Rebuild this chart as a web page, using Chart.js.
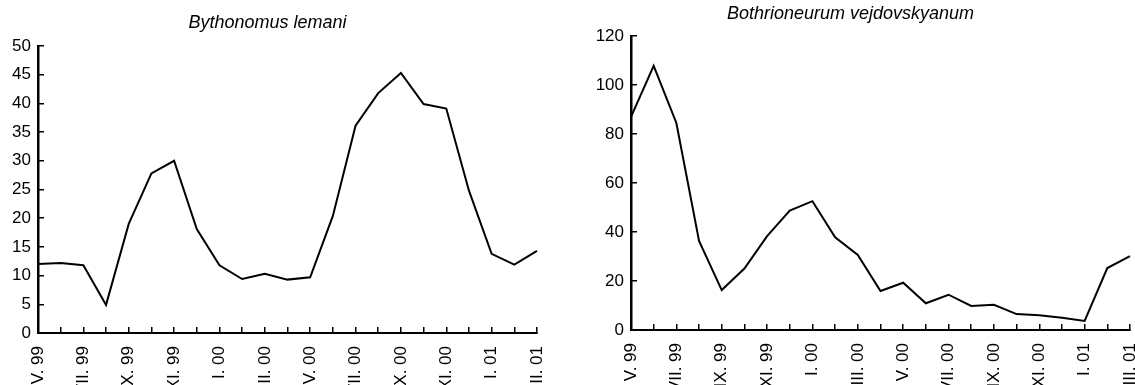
<!DOCTYPE html>
<html>
<head>
<meta charset="utf-8">
<script src="https://cdn.jsdelivr.net/npm/chart.js@4"></script>
<style>
  html, body { margin: 0; padding: 0; background: #fff; overflow: hidden; }
  .panel { position: absolute; top: 0; height: 385px; }
  #left { left: 0; width: 560px; }
  #right { left: 570px; width: 575px; }
</style>
</head>
<body>
<div class="panel" id="left"><canvas id="lemaniChart"></canvas></div>
<div class="panel" id="right"><canvas id="vejdChart"></canvas></div>
<script>
// sampling months, May 1999 - March 2001
const months = [
  'V. 99', 'VI. 99', 'VII. 99', 'VIII. 99', 'IX. 99', 'X. 99', 'XI. 99', 'XII. 99',
  'I. 00', 'II. 00', 'III. 00', 'IV. 00', 'V. 00', 'VI. 00', 'VII. 00', 'VIII. 00',
  'IX. 00', 'X. 00', 'XI. 00', 'XII. 00', 'I. 01', 'II. 01', 'III. 01'
];

const lemani = [
  12.0, 12.2, 11.8, 4.9, 19.0, 27.8, 30.0, 18.1,
  11.8, 9.4, 10.3, 9.3, 9.7, 20.4, 36.1, 41.8,
  45.3, 39.9, 39.1, 24.8, 13.8, 11.9, 14.3
];

const vejdovskyanum = [
  87.0, 107.8, 84.5, 36.4, 16.3, 25.1, 38.3, 48.7,
  52.6, 37.8, 30.6, 15.9, 19.3, 10.9, 14.4, 9.8,
  10.3, 6.5, 6.0, 5.0, 3.7, 25.3, 30.2
];

const FONT = '"Liberation Sans", Arial, Helvetica, sans-serif';

// italic species name above each plot
const speciesTitle = {
  id: 'speciesTitle',
  afterDraw(chart, args, opts) {
    const { ctx, chartArea } = chart;
    ctx.save();
    ctx.font = 'italic 18px ' + FONT;
    ctx.fillStyle = '#000';
    ctx.textAlign = 'center';
    ctx.textBaseline = 'middle';
    ctx.fillText(opts.text, (chartArea.left + chartArea.right) / 2 + opts.dx, opts.y);
    ctx.restore();
  }
};

function makeChart(id, title, values, yMax, yStep, box) {
  return new Chart(document.getElementById(id), {
    type: 'line',
    data: {
      labels: months,
      datasets: [{
        data: values,
        borderColor: '#000',
        borderWidth: 2,
        pointRadius: 0,
        tension: 0,
        fill: false
      }]
    },
    plugins: [speciesTitle],
    options: {
      responsive: true,
      maintainAspectRatio: false,
      animation: false,
      devicePixelRatio: 1,
      layout: { padding: { top: box.top, right: box.right, left: 0, bottom: 0 } },
      plugins: {
        legend: { display: false },
        tooltip: { enabled: false },
        speciesTitle: { text: title, dx: box.titleDx, y: box.titleY }
      },
      scales: {
        x: {
          afterFit(scale) {
            scale.height = box.xHeight;
            // let the rotated end labels hang over instead of shrinking the plot
            scale.paddingLeft = 0;
            scale.paddingRight = 0;
          },
          grid: {
            drawOnChartArea: false,
            color: '#000',
            lineWidth: 1.5,
            tickLength: -6
          },
          border: { color: '#000', width: 2 },
          ticks: {
            autoSkip: false,
            minRotation: 90,
            maxRotation: 90,
            padding: 19,
            color: '#000',
            font: { family: FONT, size: 17 },
            callback(value, index) {
              return index % 2 === 0 ? months[index] : '';
            }
          }
        },
        y: {
          min: 0,
          max: yMax,
          afterFit(scale) { scale.width = box.yWidth; },
          grid: {
            drawOnChartArea: false,
            color: '#000',
            lineWidth: 1.5,
            tickLength: -6
          },
          border: { color: '#000', width: 2.5 },
          ticks: {
            stepSize: yStep,
            padding: 13,
            color: '#000',
            font: { family: FONT, size: 17 }
          }
        }
      }
    }
  });
}

makeChart('lemaniChart', 'Bythonomus lemani', lemani, 50, 5,
  { top: 46, right: 23, yWidth: 38, xHeight: 52, titleDx: -20, titleY: 23 });

makeChart('vejdChart', 'Bothrioneurum vejdovskyanum', vejdovskyanum, 120, 20,
  { top: 36, right: 15, yWidth: 61, xHeight: 55, titleDx: -30, titleY: 14 });
</script>
</body>
</html>
